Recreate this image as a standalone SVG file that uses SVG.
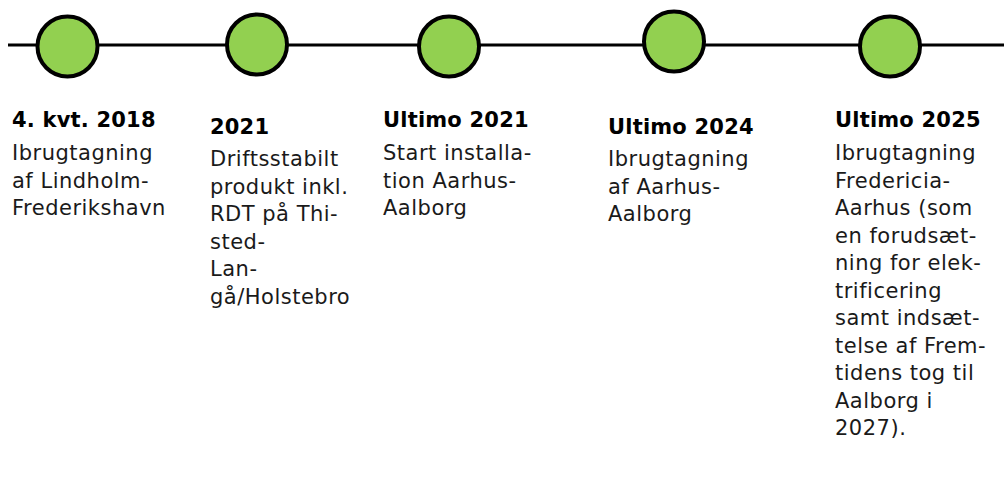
<svg xmlns="http://www.w3.org/2000/svg" width="1004" height="489" viewBox="0 0 1004 489">
<style>
.t{font-family:"DejaVu Sans",Verdana,sans-serif;font-size:21px;letter-spacing:0.5px;fill:#1a1a1a}
.b{font-weight:bold;fill:#000;letter-spacing:0.2px}
.m{fill:#92D050;stroke:#000;stroke-width:4}
</style>
<g id="connectors">
<line x1="8" y1="45" x2="1004" y2="45" stroke="#000" stroke-width="3"/>
</g>
<g id="n1">
<circle class="m" cx="67.5" cy="46.5" r="30"/>
<text class="t" x="12"><tspan class="b" x="12" y="127">4. kvt. 2018</tspan><tspan x="12" y="160">Ibrugtagning</tspan><tspan x="12" y="187.5">af Lindholm-</tspan><tspan x="12" y="215">Frederikshavn</tspan></text>
</g>
<g id="n2">
<circle class="m" cx="257" cy="44.5" r="30"/>
<text class="t"><tspan class="b" x="210" y="133.5">2021</tspan><tspan x="210" y="166">Driftsstabilt</tspan><tspan x="210" y="193.5">produkt inkl.</tspan><tspan x="210" y="221">RDT på Thi-</tspan><tspan x="210" y="248.5">sted-</tspan><tspan x="210" y="276">Lan-</tspan><tspan x="210" y="303.5">gå/Holstebro</tspan></text>
</g>
<g id="n3">
<circle class="m" cx="449" cy="46.5" r="30"/>
<text class="t"><tspan class="b" x="383" y="127">Ultimo 2021</tspan><tspan x="383" y="160">Start installa-</tspan><tspan x="383" y="187.5">tion Aarhus-</tspan><tspan x="383" y="215">Aalborg</tspan></text>
</g>
<g id="n4">
<circle class="m" cx="674" cy="41.5" r="30"/>
<text class="t"><tspan class="b" x="608" y="133.5">Ultimo 2024</tspan><tspan x="608" y="166">Ibrugtagning</tspan><tspan x="608" y="193.5">af Aarhus-</tspan><tspan x="608" y="221">Aalborg</tspan></text>
</g>
<g id="n5">
<circle class="m" cx="890" cy="46.5" r="30"/>
<text class="t"><tspan class="b" x="835" y="127">Ultimo 2025</tspan><tspan x="835" y="160">Ibrugtagning</tspan><tspan x="835" y="187.5">Fredericia-</tspan><tspan x="835" y="215">Aarhus (som</tspan><tspan x="835" y="242.5">en forudsæt-</tspan><tspan x="835" y="270">ning for elek-</tspan><tspan x="835" y="297.5">trificering</tspan><tspan x="835" y="325">samt indsæt-</tspan><tspan x="835" y="352.5">telse af Frem-</tspan><tspan x="835" y="380">tidens tog til</tspan><tspan x="835" y="407.5">Aalborg i</tspan><tspan x="835" y="435">2027).</tspan></text>
</g>
</svg>
